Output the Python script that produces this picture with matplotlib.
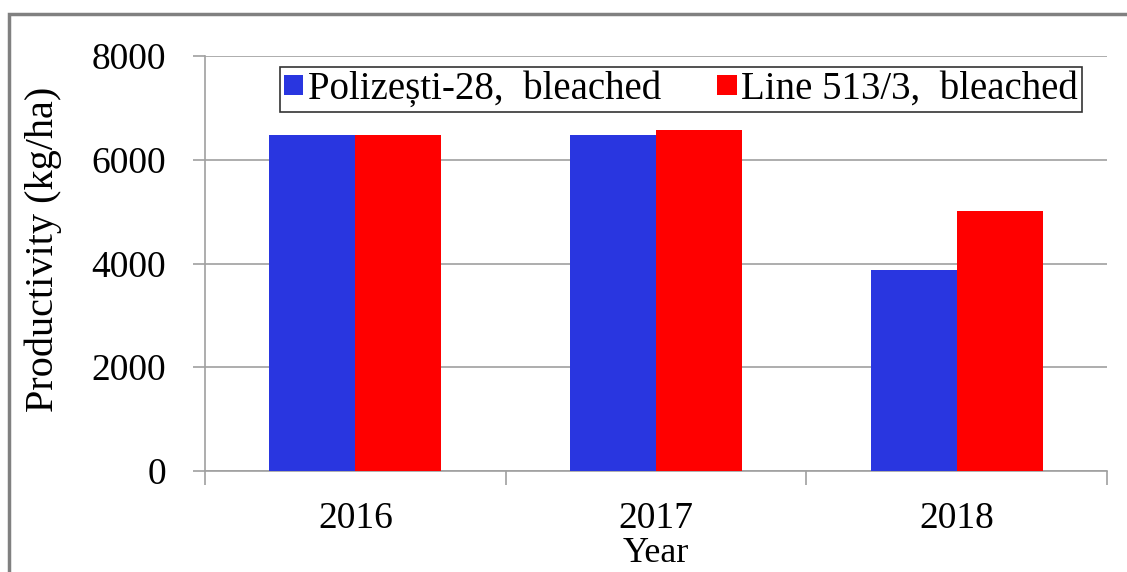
import matplotlib.pyplot as plt
import numpy as np
from matplotlib.patches import Rectangle

years = ["2016", "2017", "2018"]
polizesti = [6480, 6480, 3880]
line513 = [6480, 6580, 5010]
series_names = ["Polizești-28,  bleached", "Line 513/3,  bleached"]

plt.rcParams['font.family'] = ['Liberation Serif', 'DejaVu Serif']

W, H = 1127, 572
fig = plt.figure(figsize=(W / 100, H / 100), dpi=100)
ax = fig.add_axes([205 / W, 1 - 471 / H, (1107 - 205) / W, (471 - 56) / H])

# outer chart frame (cut off at right and bottom like the original)
fig.patches.append(Rectangle((9 / W, -0.1), 1.2, 1 - 14 / H + 0.1,
                             transform=fig.transFigure, fill=False,
                             edgecolor='#808080', linewidth=2.5))

x = np.arange(len(years))
w = 0.286
ax.bar(x - w / 2, polizesti, w, color='#2936E0', label=series_names[0], zorder=3)
ax.bar(x + w / 2, line513, w, color='#FF0000', label=series_names[1], zorder=3)

ax.set_xlim(-0.5, 2.5)
ax.set_ylim(0, 8000)
ax.set_yticks([0, 2000, 4000, 6000, 8000])
ax.yaxis.grid(True, color='#a0a0a0', linewidth=1.2, zorder=0)
ax.set_xticks(x)
ax.set_xticklabels(years)
ax.tick_params(axis='x', length=0, labelsize=27, pad=22)
ax.tick_params(axis='y', length=9, color='#a0a0a0', width=1.2,
               labelsize=27, pad=19)
# category boundary ticks on the x axis
ax.set_xticks([-0.5, 0.5, 1.5, 2.5], minor=True)
ax.tick_params(axis='x', which='minor', length=10, color='#a0a0a0', width=1.2)

for s in ['top', 'right']:
    ax.spines[s].set_visible(False)
for s in ['left', 'bottom']:
    ax.spines[s].set_color('#a0a0a0')
    ax.spines[s].set_linewidth(1.2)

ax.set_ylabel("Productivity (kg/ha)", fontsize=29)
ax.yaxis.set_label_coords((62 - 205) / 902, (471 - 249) / 415)
ax.set_xlabel("Year", fontsize=26, labelpad=1)

leg = ax.legend(loc='upper left', bbox_to_anchor=(280 / W, 1 - 67 / H, 802 / W, 0),
                bbox_transform=fig.transFigure, mode='expand',
                ncol=2, fontsize=28, frameon=True, fancybox=False,
                handlelength=0.5, handleheight=0.45, handletextpad=0.12,
                columnspacing=0.2, borderpad=0.1, borderaxespad=0)
leg.get_frame().set_edgecolor('black')
leg.get_frame().set_linewidth(1.2)

fig.savefig("out.png", dpi=100)
